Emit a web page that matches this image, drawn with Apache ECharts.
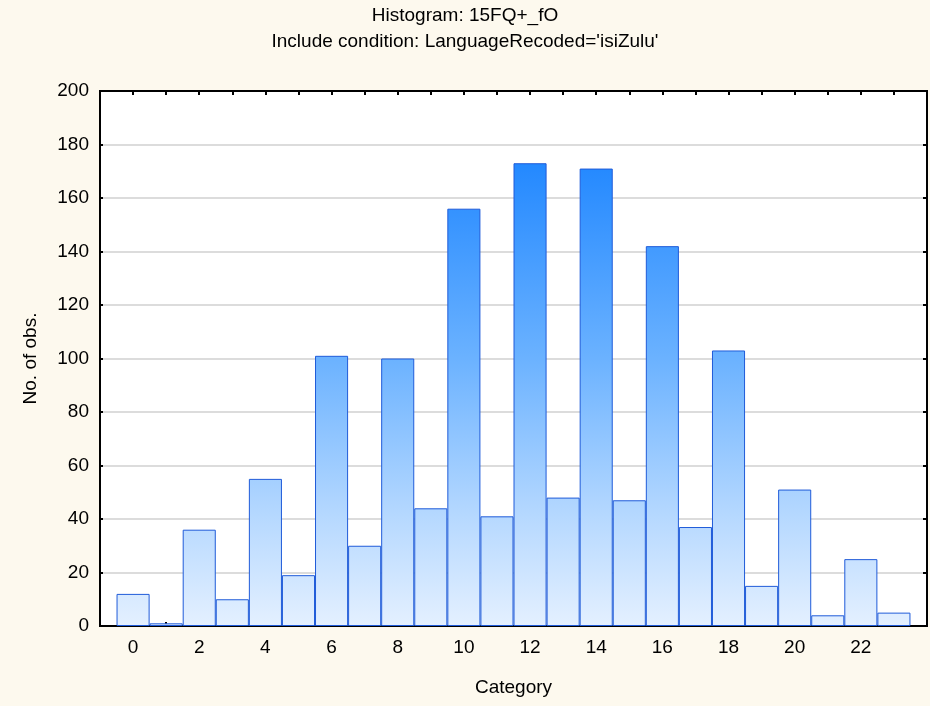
<!DOCTYPE html>
<html>
<head>
<meta charset="utf-8">
<script src="https://cdn.jsdelivr.net/npm/echarts@6/dist/echarts.min.js"></script>
<style>
html,body{margin:0;padding:0;background:#FDF9EE;}
#chart{width:930px;height:706px;}
</style>
</head>
<body>
<div id="chart"></div>
<script>
// Data
const titleText = 'Histogram: 15FQ+_fO';
const subtitleText = "Include condition: LanguageRecoded='isiZulu'";
const xAxisName = 'Category';
const yAxisName = 'No. of obs.';
const categories = [0,1,2,3,4,5,6,7,8,9,10,11,12,13,14,15,16,17,18,19,20,21,22,23];
const counts = [12,1,36,10,55,19,101,30,100,44,156,41,173,48,171,47,142,37,103,15,51,4,25,5];
const xTickLabels = [0,2,4,6,8,10,12,14,16,18,20,22];
const yTickLabels = [0,20,40,60,80,100,120,140,160,180,200];

const font = 'Arial, "Liberation Sans", sans-serif';
const fs = 19;
const chart = echarts.init(document.getElementById('chart'));

const gridTop = 91, gridBottomY = 626;
const barFill = {
  type: 'linear', x: 0, y: gridTop, x2: 0, y2: gridBottomY, global: true,
  colorStops: [
    {offset: 0, color: '#1A82FF'},
    {offset: 0.14, color: '#2489FF'},
    {offset: 0.5, color: '#6BB2FF'},
    {offset: 0.8, color: '#B7D9FF'},
    {offset: 1, color: '#E4F0FF'}
  ]
};

const yMin = yTickLabels[0], yMax = yTickLabels[yTickLabels.length - 1];
const yStep = yTickLabels[1] - yTickLabels[0];
const xMin = categories[0] - 1, xMax = categories[categories.length - 1] + 1;

chart.setOption({
  backgroundColor: '#FDF9EE',
  animation: false,
  title: [
    {text: titleText, left: 'center', top: 1,
     textStyle: {fontFamily: font, fontSize: fs, fontWeight: 'normal', color: '#000'}},
    {text: subtitleText, left: 'center', top: 27,
     textStyle: {fontFamily: font, fontSize: fs, fontWeight: 'normal', color: '#000'}}
  ],
  grid: {
    left: 100, right: 3, top: gridTop, bottom: 706 - gridBottomY,
    show: true, backgroundColor: '#FFFFFF', borderColor: '#000', borderWidth: 2,
    containLabel: false
  },
  xAxis: [
    {
      type: 'value', min: xMin, max: xMax, interval: 1, position: 'bottom',
      name: xAxisName, nameLocation: 'middle', nameGap: 52,
      nameTextStyle: {fontFamily: font, fontSize: fs, color: '#000'},
      axisLine: {show: true, onZero: false, lineStyle: {color: '#000', width: 2}},
      axisTick: {show: true, inside: true, length: 4,
        lineStyle: {color: '#000', width: 2}},
      axisLabel: {
        margin: 12, fontFamily: font, fontSize: fs, color: '#000',
        showMinLabel: true, showMaxLabel: true,
        formatter: v => xTickLabels.indexOf(v) >= 0 ? String(v) : ''
      },
      splitLine: {show: false}
    },
    {
      type: 'value', min: xMin, max: xMax, interval: 1, position: 'top',
      axisLine: {show: true, onZero: false, lineStyle: {color: '#000', width: 2}},
      axisTick: {show: true, inside: true, length: 4,
        lineStyle: {color: '#000', width: 2}},
      axisLabel: {show: false},
      splitLine: {show: false}
    }
  ],
  yAxis: [
    {
      type: 'value', min: yMin, max: yMax, interval: yStep, position: 'left',
      name: yAxisName, nameLocation: 'middle', nameGap: 60, nameRotate: 90,
      nameTextStyle: {fontFamily: font, fontSize: fs, color: '#000'},
      axisLine: {show: true, onZero: false, lineStyle: {color: '#000', width: 2}},
      axisTick: {show: true, inside: true, length: 3,
        lineStyle: {color: '#000', width: 2}},
      axisLabel: {margin: 11, fontFamily: font, fontSize: fs, color: '#000'},
      splitLine: {show: true, lineStyle: {color: '#DCDCDC', width: 2}}
    },
    {
      type: 'value', min: yMin, max: yMax, interval: yStep, position: 'right',
      axisLine: {show: true, onZero: false, lineStyle: {color: '#000', width: 2}},
      axisTick: {show: true, inside: true, length: 4,
        lineStyle: {color: '#000', width: 2}},
      axisLabel: {show: false},
      splitLine: {show: false}
    }
  ],
  series: [{
    type: 'bar',
    xAxisIndex: 0, yAxisIndex: 0,
    barWidth: '100%',
    data: categories.map((c, i) => [c, counts[i]]),
    itemStyle: {color: barFill, borderColor: '#1F5BD9', borderWidth: 1},
    emphasis: {disabled: true}
  }]
});
</script>
</body>
</html>
